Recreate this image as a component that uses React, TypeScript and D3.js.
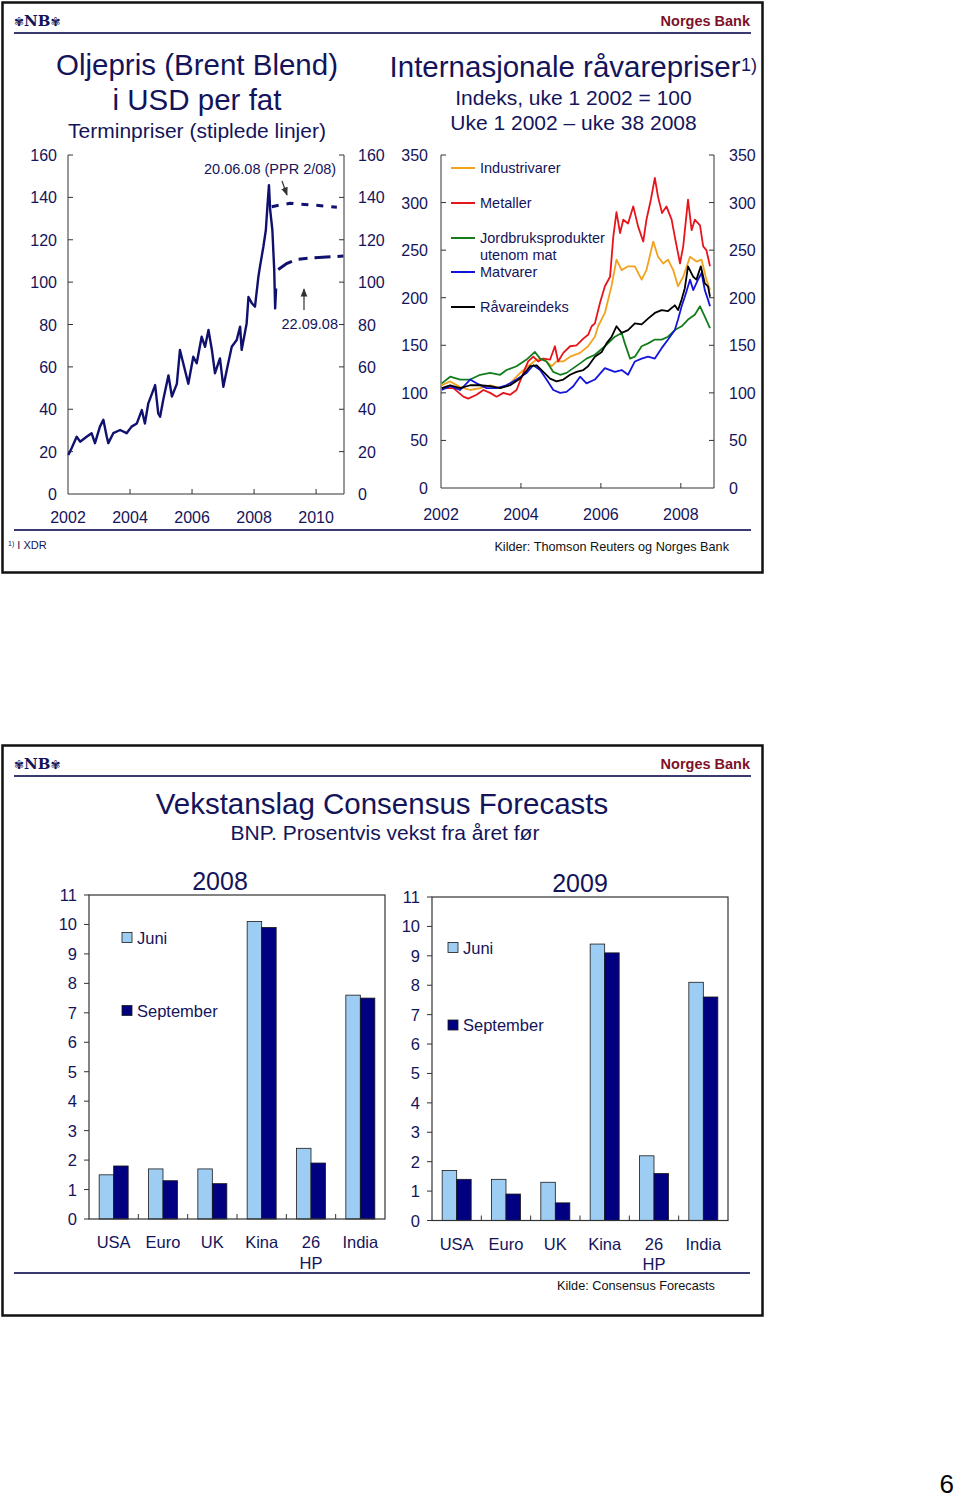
import React from "react";
import * as d3 from "d3";

const NAVY = "#14145a";
const FONT = "'Liberation Sans', Arial, sans-serif";

// ---------- Oil price (Brent Blend), USD per barrel ----------
const oilSpot: [number, number][] = [
  [2002.01, 18.4], [2002.12, 21.7], [2002.28, 27], [2002.39, 24.7], [2002.6, 27], [2002.76, 28.7],
  [2002.87, 24], [2003.03, 31.8], [2003.14, 35], [2003.25, 27], [2003.3, 24], [2003.46, 28.7],
  [2003.68, 30.2], [2003.89, 28.7], [2004.05, 31.8], [2004.22, 33.3], [2004.38, 39.6], [2004.48, 33.3],
  [2004.59, 42.8], [2004.75, 49], [2004.81, 51.4], [2004.91, 38], [2004.97, 36.5], [2005.07, 44.4],
  [2005.24, 56], [2005.35, 46], [2005.51, 52], [2005.61, 68], [2005.77, 58.5], [2005.88, 52],
  [2006.04, 64.8], [2006.15, 61.7], [2006.31, 74.2], [2006.42, 69.5], [2006.53, 77.4], [2006.64, 68],
  [2006.74, 57], [2006.9, 64], [2007.01, 50.6], [2007.12, 58.5], [2007.28, 69.5], [2007.44, 72.7],
  [2007.55, 79], [2007.6, 68], [2007.76, 80.5], [2007.82, 93], [2007.93, 90], [2008.03, 88.4],
  [2008.14, 102.6], [2008.19, 107.3], [2008.3, 116.7], [2008.38, 124.6], [2008.43, 135.6],
  [2008.48, 145.8], [2008.52, 134], [2008.59, 124.6], [2008.65, 105.7], [2008.68, 87.6], [2008.71, 97],
];
const oilForwardJune: [number, number][] = [
  [2008.57, 135.6], [2008.84, 136.4], [2009.16, 137.2], [2009.91, 136.4], [2010.67, 135.3],
];
const oilForwardSept: [number, number][] = [
  [2008.78, 106], [2009.05, 108.8], [2009.38, 110.7], [2009.91, 111.5], [2010.88, 112.3],
];
const oilYTicks = [0, 20, 40, 60, 80, 100, 120, 140, 160];
const oilXTicks = [2002, 2004, 2006, 2008, 2010];

// ---------- Commodity prices, index week 1 2002 = 100 ----------
const industrivarer: [number, number][] = [
  [2002.02, 108], [2002.23, 112], [2002.48, 106], [2002.73, 103], [2002.98, 105], [2003.23, 108],
  [2003.48, 105], [2003.73, 110], [2003.98, 121], [2004.18, 128], [2004.39, 135], [2004.56, 136],
  [2004.77, 128], [2004.89, 133], [2005.06, 133], [2005.23, 138], [2005.48, 142], [2005.68, 149],
  [2005.85, 159], [2005.93, 170], [2006.1, 184], [2006.27, 213], [2006.39, 240], [2006.52, 229],
  [2006.68, 233], [2006.85, 233], [2007.02, 219], [2007.14, 229], [2007.31, 259], [2007.43, 243],
  [2007.56, 236], [2007.68, 240], [2007.81, 229], [2007.93, 212], [2008.06, 222], [2008.23, 243],
  [2008.39, 238], [2008.52, 240], [2008.64, 219], [2008.73, 208],
];
const metaller: [number, number][] = [
  [2002.02, 105], [2002.31, 105], [2002.56, 96], [2002.68, 94], [2002.89, 98], [2003.06, 103],
  [2003.23, 100], [2003.39, 96], [2003.56, 100], [2003.73, 98], [2003.89, 103], [2004.06, 121],
  [2004.18, 133], [2004.31, 138], [2004.43, 133], [2004.56, 136], [2004.73, 135], [2004.85, 149],
  [2004.93, 133], [2005.06, 142], [2005.23, 149], [2005.39, 150], [2005.56, 157], [2005.68, 161],
  [2005.77, 170], [2005.85, 173], [2005.98, 195], [2006.1, 212], [2006.23, 222], [2006.31, 264],
  [2006.39, 290], [2006.48, 268], [2006.56, 282], [2006.68, 278], [2006.81, 296], [2006.93, 275],
  [2007.06, 259], [2007.14, 282], [2007.25, 303], [2007.35, 326], [2007.43, 306], [2007.53, 289],
  [2007.64, 296], [2007.77, 282], [2007.85, 264], [2007.98, 236], [2008.06, 254], [2008.18, 303],
  [2008.27, 271], [2008.35, 282], [2008.48, 276], [2008.56, 254], [2008.64, 250], [2008.73, 233],
];
const jordbruk: [number, number][] = [
  [2002.02, 110], [2002.23, 117], [2002.48, 114], [2002.73, 114], [2002.98, 119], [2003.23, 121],
  [2003.48, 119], [2003.64, 124], [2003.89, 128], [2004.14, 135], [2004.35, 143], [2004.48, 136],
  [2004.64, 133], [2004.81, 122], [2004.98, 119], [2005.14, 121], [2005.31, 126], [2005.48, 131],
  [2005.64, 136], [2005.85, 140], [2006.1, 149], [2006.35, 159], [2006.52, 163], [2006.6, 152],
  [2006.73, 136], [2006.85, 138], [2007.02, 149], [2007.18, 152], [2007.35, 156], [2007.52, 156],
  [2007.68, 159], [2007.85, 166], [2008.02, 170], [2008.18, 177], [2008.35, 182], [2008.48, 191],
  [2008.6, 180], [2008.73, 168],
];
const matvarer: [number, number][] = [
  [2002.02, 103], [2002.23, 107], [2002.48, 103], [2002.73, 114], [2002.89, 110], [2003.14, 105],
  [2003.39, 105], [2003.64, 108], [2003.89, 114], [2004.14, 121], [2004.31, 129], [2004.48, 124],
  [2004.64, 114], [2004.81, 103], [2004.98, 100], [2005.14, 101], [2005.31, 107], [2005.48, 117],
  [2005.64, 110], [2005.85, 114], [2006.1, 126], [2006.35, 122], [2006.52, 124], [2006.68, 119],
  [2006.85, 133], [2007.02, 136], [2007.18, 138], [2007.35, 136], [2007.52, 147], [2007.68, 156],
  [2007.85, 166], [2007.93, 177], [2008.02, 191], [2008.1, 201], [2008.23, 219], [2008.31, 208],
  [2008.43, 219], [2008.52, 226], [2008.6, 208], [2008.68, 198], [2008.73, 191],
];
const raavareindeks: [number, number][] = [
  [2002.02, 105], [2002.23, 108], [2002.48, 105], [2002.73, 108], [2002.98, 108], [2003.23, 107],
  [2003.48, 105], [2003.73, 108], [2003.98, 115], [2004.23, 128], [2004.39, 129], [2004.56, 122],
  [2004.73, 115], [2004.89, 112], [2005.06, 114], [2005.23, 119], [2005.39, 122], [2005.56, 124],
  [2005.68, 128], [2005.85, 138], [2006.02, 143], [2006.14, 152], [2006.27, 159], [2006.39, 170],
  [2006.52, 163], [2006.68, 166], [2006.85, 173], [2007.02, 172], [2007.18, 178], [2007.35, 184],
  [2007.52, 187], [2007.68, 186], [2007.85, 192], [2007.93, 187], [2008.02, 198], [2008.1, 210],
  [2008.18, 233], [2008.31, 222], [2008.39, 219], [2008.5, 233], [2008.6, 215], [2008.68, 212],
  [2008.73, 201],
];
const rawYTicks = [0, 50, 100, 150, 200, 250, 300, 350];
const rawXTicks = [2002, 2004, 2006, 2008];
const rawSeries = [
  { name: ["Industrivarer"], color: "#f2a21c", data: industrivarer },
  { name: ["Metaller"], color: "#e8141c", data: metaller },
  { name: ["Jordbruksprodukter", "utenom mat"], color: "#137d1d", data: jordbruk },
  { name: ["Matvarer"], color: "#1414dc", data: matvarer },
  { name: ["Råvareindeks"], color: "#000000", data: raavareindeks },
];

// ---------- Consensus forecasts, GDP growth ----------
const regions = ["USA", "Euro", "UK", "Kina", "26 HP", "India"];
const juni2008 = [1.5, 1.7, 1.7, 10.1, 2.4, 7.6];
const sept2008 = [1.8, 1.3, 1.2, 9.9, 1.9, 7.5];
const juni2009 = [1.7, 1.4, 1.3, 9.4, 2.2, 8.1];
const sept2009 = [1.4, 0.9, 0.6, 9.1, 1.6, 7.6];
const barYTicks = [0, 1, 2, 3, 4, 5, 6, 7, 8, 9, 10, 11];
const LIGHT = "#9ecdf4";
const DARK = "#000080";

function Header({ y }: { y: number }) {
  return (
    <g>
      <text x={14} y={y + 6} fontSize={15} fontWeight="bold" fill={NAVY} fontFamily="'DejaVu Serif', serif">
        <tspan fontSize={12} fontFamily="'DejaVu Sans'">✾</tspan>NB<tspan fontSize={12} fontFamily="'DejaVu Sans'">✾</tspan>
      </text>
      <text x={750} y={y + 6} textAnchor="end" fontSize={14.5} fontWeight="bold" fill="#7d1128">Norges Bank</text>
      <line x1={14} x2={751} y1={y + 13} y2={y + 13} stroke="#3a3a70" strokeWidth={2} />
    </g>
  );
}

function OilChart() {
  const x = d3.scaleLinear().domain([2002, 2010.9]).range([68, 344]);
  const y = d3.scaleLinear().domain([0, 160]).range([494, 155]);
  const line = d3.line<[number, number]>().x((d) => x(d[0])).y((d) => y(d[1]));
  const [x0, x1] = x.range();
  const [yb, yt] = y.range();
  return (
    <g>
      <line x1={x0} x2={x0} y1={yt} y2={yb} stroke="#333" />
      <line x1={x1} x2={x1} y1={yt} y2={yb} stroke="#333" />
      <line x1={x0} x2={x1} y1={yb} y2={yb} stroke="#333" />
      {oilYTicks.map((v) => (
        <g key={v}>
          {v > 0 && <line x1={x0} x2={x0 + 5} y1={y(v)} y2={y(v)} stroke="#333" />}
          {v > 0 && <line x1={x1} x2={x1 - 5} y1={y(v)} y2={y(v)} stroke="#333" />}
          <text x={57} y={y(v) + 6} textAnchor="end" fontSize={16} fill={NAVY}>{v}</text>
          <text x={358} y={y(v) + 6} fontSize={16} fill={NAVY}>{v}</text>
        </g>
      ))}
      {oilXTicks.map((t) => (
        <g key={t}>
          {t > 2002 && <line x1={x(t)} x2={x(t)} y1={yb} y2={yb - 5} stroke="#333" />}
          <text x={x(t)} y={523} textAnchor="middle" fontSize={16} fill={NAVY}>{t}</text>
        </g>
      ))}
      <path d={line(oilSpot) || ""} fill="none" stroke="#10106e" strokeWidth={2.4} strokeLinejoin="round" />
      <path d={line(oilForwardJune) || ""} fill="none" stroke="#10106e" strokeWidth={3} strokeDasharray="7 8" />
      <path d={line(oilForwardSept) || ""} fill="none" stroke="#10106e" strokeWidth={3} strokeDasharray="16 7 9 7" />
      <text x={204} y={174} fontSize={14.5} fill={NAVY}>20.06.08 (PPR 2/08)</text>
      <line x1={282} y1={181} x2={287} y2={195} stroke="#333" strokeWidth={1.2} markerEnd="url(#arrowHead)" />
      <text x={338} y={328.5} textAnchor="end" fontSize={14.5} fill={NAVY}>22.09.08</text>
      <line x1={304} y1={310} x2={304} y2={289} stroke="#333" strokeWidth={1.2} markerEnd="url(#arrowHead)" />
    </g>
  );
}

function RawChart() {
  const x = d3.scaleLinear().domain([2002, 2008.83]).range([441, 714]);
  const y = d3.scaleLinear().domain([0, 350]).range([488, 155]);
  const line = d3.line<[number, number]>().x((d) => x(d[0])).y((d) => y(d[1]));
  const [x0, x1] = x.range();
  const [yb, yt] = y.range();
  const legendY = [168, 203, 238, 272, 307];
  return (
    <g>
      <line x1={x0} x2={x0} y1={yt} y2={yb} stroke="#333" />
      <line x1={x1} x2={x1} y1={yt} y2={yb} stroke="#333" />
      <line x1={x0} x2={x1} y1={yb} y2={yb} stroke="#333" />
      {rawYTicks.map((v) => (
        <g key={v}>
          {v > 0 && <line x1={x0} x2={x0 + 5} y1={y(v)} y2={y(v)} stroke="#333" />}
          {v > 0 && <line x1={x1} x2={x1 - 5} y1={y(v)} y2={y(v)} stroke="#333" />}
          <text x={428} y={y(v) + 6} textAnchor="end" fontSize={16} fill={NAVY}>{v}</text>
          <text x={729} y={y(v) + 6} fontSize={16} fill={NAVY}>{v}</text>
        </g>
      ))}
      {rawXTicks.map((t) => (
        <g key={t}>
          {t > 2002 && <line x1={x(t)} x2={x(t)} y1={yb} y2={yb - 5} stroke="#333" />}
          <text x={x(t)} y={520} textAnchor="middle" fontSize={16} fill={NAVY}>{t}</text>
        </g>
      ))}
      {rawSeries.map((s) => (
        <path key={s.name[0]} d={line(s.data) || ""} fill="none" stroke={s.color} strokeWidth={1.8} strokeLinejoin="round" />
      ))}
      {rawSeries.map((s, i) => (
        <g key={"lg" + i}>
          <line x1={451} x2={475} y1={legendY[i]} y2={legendY[i]} stroke={s.color} strokeWidth={2} />
          {s.name.map((n, j) => (
            <text key={n} x={480} y={legendY[i] + 5 + j * 17} fontSize={14.5} fill={NAVY}>{n}</text>
          ))}
        </g>
      ))}
    </g>
  );
}

function BarChart(props: {
  x0: number; x1: number; yTop: number; yBot: number; title: string; titleX: number; titleY: number;
  juni: number[]; sept: number[]; legJuniY: number; legSeptY: number; legX: number;
}) {
  const { x0, x1, yTop, yBot, title, titleX, titleY, juni, sept, legJuniY, legSeptY, legX } = props;
  const x = d3.scaleBand<string>().domain(regions).range([x0, x1]);
  const inner = d3.scaleBand<string>().domain(["Juni", "September"]).range([-14.5, 14.5]);
  const y = d3.scaleLinear().domain([0, 11]).range([yBot, yTop]);
  const series = [
    { key: "Juni", values: juni, fill: LIGHT },
    { key: "September", values: sept, fill: DARK },
  ];
  return (
    <g>
      <text x={titleX} y={titleY} textAnchor="middle" fontSize={25} fill={NAVY}>{title}</text>
      {barYTicks.map((v) => (
        <g key={v}>
          <line x1={x0 - 5} x2={x0} y1={y(v)} y2={y(v)} stroke="#333" />
          <text x={x0 - 12} y={y(v) + 6} textAnchor="end" fontSize={16.5} fill={NAVY}>{v}</text>
        </g>
      ))}
      {series.map((s) =>
        regions.map((r, i) => (
          <rect key={s.key + r} x={(x(r) as number) + x.bandwidth() / 2 + (inner(s.key) as number)} y={y(s.values[i])}
            width={inner.bandwidth()} height={y(0) - y(s.values[i])} fill={s.fill} stroke="#1a1a1a" strokeWidth={0.8} />
        ))
      )}
      <rect x={x0} y={yTop} width={x1 - x0} height={yBot - yTop} fill="none" stroke="#333" strokeWidth={1.2} />
      {regions.slice(1).map((r) => (
        <line key={"t" + r} x1={x(r)} x2={x(r)} y1={yBot} y2={yBot - 5} stroke="#333" />
      ))}
      {regions.map((r) => {
        const parts = r.split(" ");
        return parts.map((p, j) => (
          <text key={r + j} x={(x(r) as number) + x.bandwidth() / 2} y={yBot + 29 + j * 20.5} textAnchor="middle" fontSize={16.5} fill={NAVY}>{p}</text>
        ));
      })}
      <rect x={legX} y={legJuniY - 5} width={10} height={10} fill={LIGHT} stroke="#1a1a1a" strokeWidth={0.8} />
      <text x={legX + 15} y={legJuniY + 6} fontSize={16.5} fill={NAVY}>Juni</text>
      <rect x={legX} y={legSeptY - 5} width={10} height={10} fill={DARK} stroke="#1a1a1a" strokeWidth={0.8} />
      <text x={legX + 15} y={legSeptY + 6} fontSize={16.5} fill={NAVY}>September</text>
    </g>
  );
}

export default function App() {
  return (
    <svg width={960} height={1501} style={{ position: "absolute", left: 0, top: 0, display: "block" }} fontFamily={FONT}>
      <defs>
        <marker id="arrowHead" viewBox="0 0 10 10" refX="9" refY="5" markerWidth="7" markerHeight="7" orient="auto">
          <path d="M0,1 L10,5 L0,9 z" fill="#333" />
        </marker>
      </defs>
      <rect width={960} height={1501} fill="#fff" />

      {/* Top panel */}
      <rect x={2.5} y={2.5} width={760} height={570} fill="none" stroke="#111" strokeWidth={2.5} />
      <Header y={20} />
      <text x={197} y={75} textAnchor="middle" fontSize={29.5} fill={NAVY}>Oljepris (Brent Blend)</text>
      <text x={197} y={110} textAnchor="middle" fontSize={29.5} fill={NAVY}>i USD per fat</text>
      <text x={197} y={138} textAnchor="middle" fontSize={21} fill={NAVY}>Terminpriser (stiplede linjer)</text>
      <text x={565} y={77} textAnchor="middle" fontSize={29.5} fill={NAVY}>Internasjonale råvarepriser</text>
      <text x={741} y={71} fontSize={18} fill={NAVY}>1)</text>
      <text x={573.5} y={104.5} textAnchor="middle" fontSize={21} fill={NAVY}>Indeks, uke 1 2002 = 100</text>
      <text x={573.5} y={129.5} textAnchor="middle" fontSize={21} fill={NAVY}>Uke 1 2002 – uke 38 2008</text>
      <OilChart />
      <RawChart />
      <line x1={14} x2={751} y1={530} y2={530} stroke="#3a3a70" strokeWidth={2} />
      <text x={8} y={549} fontSize={11} fill={NAVY}><tspan fontSize={7} dy={-3}>1)</tspan><tspan dy={3}> I XDR</tspan></text>
      <text x={729} y={551} textAnchor="end" fontSize={12.7} fill="#111">Kilder: Thomson Reuters og Norges Bank</text>

      {/* Bottom panel */}
      <rect x={2.5} y={745.5} width={760} height={570} fill="none" stroke="#111" strokeWidth={2.5} />
      <Header y={763} />
      <text x={382} y={814} textAnchor="middle" fontSize={29.5} fill={NAVY}>Vekstanslag Consensus Forecasts</text>
      <text x={385} y={839.5} textAnchor="middle" fontSize={21} fill={NAVY}>BNP. Prosentvis vekst fra året før</text>
      <BarChart x0={89} x1={385} yTop={895} yBot={1219} title="2008" titleX={220} titleY={890}
        juni={juni2008} sept={sept2008} legX={122} legJuniY={937.5} legSeptY={1010.5} />
      <BarChart x0={432} x1={728} yTop={897} yBot={1220.5} title="2009" titleX={580} titleY={892}
        juni={juni2009} sept={sept2009} legX={448} legJuniY={947.5} legSeptY={1025} />
      <line x1={14} x2={750} y1={1273} y2={1273} stroke="#3a3a70" strokeWidth={2} />
      <text x={557} y={1290} fontSize={12.7} fill="#111">Kilde: Consensus Forecasts</text>

      <text x={954} y={1493} textAnchor="end" fontSize={26} fill="#000">6</text>
    </svg>
  );
}
